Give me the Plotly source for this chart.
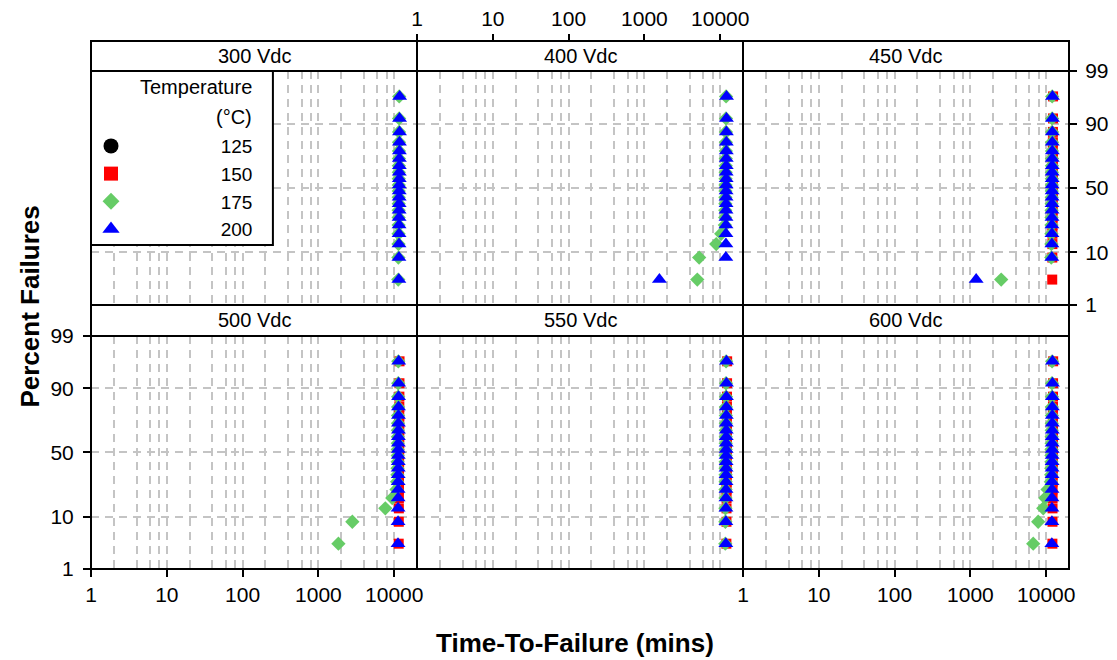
import plotly.graph_objects as go
from statistics import NormalDist

# ---------------- data (time-to-failure, mins) ----------------
panels = ["300 Vdc", "400 Vdc", "450 Vdc", "500 Vdc", "550 Vdc", "600 Vdc"]
temps = ["125", "150", "175", "200"]

# 125 °C units: no visible failures plotted in any panel
p_t125 = []

p300_t150 = []
p300_t175 = [11300, 11340, 11370, 11390, 11410, 11420, 11430, 11440, 11450, 11460, 11470, 11480, 11490, 11500, 11510, 11530, 11550, 11570, 11590, 11620]
p300_t200 = [11500, 11530, 11550, 11570, 11580, 11590, 11600, 11610, 11620, 11630, 11640, 11650, 11660, 11670, 11680, 11690, 11710, 11730, 11750, 11780]

p400_t150 = []
p400_t175 = [4980, 5270, 8850, 10300, 11500, 11600, 11650, 11680, 11700, 11720, 11740, 11760, 11780, 11800, 11820, 11840, 11860, 11880, 11900, 11930]
p400_t200 = [1575, 11850, 11870, 11890, 11900, 11910, 11920, 11930, 11940, 11950, 11960, 11970, 11980, 11990, 12000, 12010, 12030, 12050, 12070, 12100]

p450_t150 = [11990, 12030, 12060, 12080, 12100, 12110, 12120, 12130, 12140, 12150, 12160, 12170, 12180, 12190, 12200, 12210, 12230, 12250, 12270, 12300]
p450_t175 = [2545, 11650, 11680, 11700, 11720, 11740, 11760, 11780, 11800, 11820, 11840, 11850, 11860, 11870, 11880, 11890, 11900, 11920, 11940, 11970]
p450_t200 = [1190, 11850, 11870, 11890, 11900, 11910, 11920, 11930, 11940, 11950, 11960, 11970, 11980, 11990, 12000, 12010, 12020, 12040, 12060, 12090]

p500_t150 = [11450, 11480, 11500, 11520, 11540, 11550, 11560, 11570, 11580, 11590, 11600, 11610, 11620, 11630, 11640, 11650, 11670, 11690, 11710, 11740]
p500_t175 = [1834, 2800, 7620, 9410, 10700, 10900, 11000, 11050, 11080, 11100, 11120, 11140, 11160, 11180, 11200, 11220, 11240, 11260, 11280, 11310]
p500_t200 = [11200, 11220, 11240, 11250, 11260, 11270, 11280, 11290, 11300, 11310, 11320, 11330, 11340, 11350, 11360, 11370, 11380, 11400, 11420, 11450]

p550_t150 = [12050, 12080, 12100, 12120, 12130, 12140, 12150, 12160, 12170, 12180, 12190, 12200, 12210, 12220, 12230, 12240, 12260, 12280, 12300, 12330]
p550_t175 = [11650, 11680, 11700, 11720, 11740, 11750, 11760, 11770, 11780, 11790, 11800, 11810, 11820, 11830, 11840, 11850, 11870, 11890, 11910, 11940]
p550_t200 = [11850, 11870, 11890, 11900, 11910, 11920, 11930, 11940, 11950, 11960, 11970, 11980, 11990, 12000, 12010, 12020, 12040, 12060, 12080, 12100]

p600_t150 = [12050, 12080, 12100, 12120, 12130, 12140, 12150, 12160, 12170, 12180, 12190, 12200, 12210, 12220, 12230, 12240, 12260, 12280, 12300, 12330]
p600_t175 = [6730, 7830, 9130, 9700, 10400, 11500, 11600, 11650, 11700, 11720, 11740, 11760, 11780, 11800, 11820, 11840, 11860, 11880, 11900, 11930]
p600_t200 = [11850, 11870, 11890, 11900, 11910, 11920, 11930, 11940, 11950, 11960, 11970, 11980, 11990, 12000, 12010, 12020, 12040, 12060, 12080, 12100]

panel_data = [
    [p_t125, p300_t150, p300_t175, p300_t200],
    [p_t125, p400_t150, p400_t175, p400_t200],
    [p_t125, p450_t150, p450_t175, p450_t200],
    [p_t125, p500_t150, p500_t175, p500_t200],
    [p_t125, p550_t150, p550_t175, p550_t200],
    [p_t125, p600_t150, p600_t175, p600_t200],
]

x_tick_vals = [1, 10, 100, 1000, 10000]
x_tick_text = ["1", "10", "100", "1000", "10000"]
x_minor_vals = [m * d for d in (1, 10, 100, 1000, 10000) for m in (2, 4, 6, 8)]
y_tick_pct = [1, 10, 50, 90, 99]
y_tick_text = ["1", "10", "50", "90", "99"]

# ---------------- style ----------------
FONT = "Liberation Sans, Arial, sans-serif"
TICK = 21
STRIP = 20
colors = {"125": "#000000", "150": "#ff0000", "175": "#66cc66", "200": "#0000ff"}
symbols = {"125": "circle", "150": "square", "175": "diamond", "200": "triangle-up"}
sizes = {"125": 13, "150": 10, "175": 11, "200": 13}
legend_sizes = {"125": 15, "150": 14, "175": 13, "200": 15}
GRID = "#c4c4c4"
DASH = "8px,6px"

nd = NormalDist()


def zval(p):
    return nd.inv_cdf(p)


# median-rank plotting positions (Bernard)
def positions(times):
    n = len(times)
    return [zval((i + 1 - 0.3) / (n + 0.4)) for i in range(n)]


col_dom = [[0.0, 1 / 3], [1 / 3, 2 / 3], [2 / 3, 1.0]]
row_dom = [[0.5, 0.9432], [0.0, 0.4413]]          # top row, bottom row
strip_dom = [[0.9432, 1.0], [0.4413, 0.5]]

fig = go.Figure()

for k, groups in enumerate(panel_data):
    ax = "" if k == 0 else str(k + 1)
    for t, times in zip(temps, groups):
        srt = sorted(times)
        fig.add_trace(go.Scatter(
            x=srt, y=positions(srt), mode="markers",
            xaxis="x" + ax, yaxis="y" + ax,
            name=t + " °C", showlegend=False,
            marker=dict(color=colors[t], symbol=symbols[t], size=sizes[t], line=dict(width=0)),
            hoverinfo="x+y",
        ))

# legend entries (key only, no points drawn)
for t in temps:
    fig.add_trace(go.Scatter(
        x=[None], y=[None], mode="markers", xaxis="x", yaxis="y",
        name="\u00a0" * 17 + t, showlegend=True,
        marker=dict(color=colors[t], symbol=symbols[t], size=legend_sizes[t], line=dict(width=0)),
    ))

zlo, zhi = zval(0.01), zval(0.99)
layout_axes = {}
for k in range(6):
    r, c = divmod(k, 3)
    ax = "" if k == 0 else str(k + 1)
    xa = dict(
        domain=col_dom[c], anchor="y" + ax, type="log", range=[0, 4.3],
        tickmode="array", tickvals=x_tick_vals, ticktext=x_tick_text,
        showgrid=True, gridcolor=GRID, griddash=DASH, gridwidth=2,
        minor=dict(tickmode="array", tickvals=x_minor_vals, showgrid=True,
                   gridcolor=GRID, griddash=DASH, gridwidth=2, ticks=""),
        showline=False, zeroline=False, automargin=False,
        ticks="", showticklabels=False,
        tickfont=dict(family=FONT, size=TICK, color="black"),
        fixedrange=True,
    )
    if k in (3, 5):
        xa.update(ticks="outside", ticklen=7, tickwidth=1.5, tickcolor="black", showticklabels=True)
    if k == 1:
        xa.update(side="top", anchor="free", position=1.0, ticks="outside", ticklen=7,
                  tickwidth=1.5, tickcolor="black", showticklabels=True)
    ya = dict(
        domain=row_dom[r], anchor="x" + ax, range=[zlo, zhi],
        tickmode="array", tickvals=[zval(p / 100) for p in y_tick_pct], ticktext=y_tick_text,
        showgrid=True, gridcolor=GRID, griddash=DASH, gridwidth=2,
        showline=False, zeroline=False, automargin=False,
        ticks="", showticklabels=False,
        tickfont=dict(family=FONT, size=TICK, color="black"),
        fixedrange=True,
    )
    if k == 3:
        ya.update(ticks="outside", ticklen=7, tickwidth=1.5, tickcolor="black",
                  showticklabels=True, ticklabelstandoff=5)
    if k == 2:
        ya.update(side="right", ticks="outside", ticklen=7, tickwidth=1.5, tickcolor="black",
                  showticklabels=True, ticklabelstandoff=4)
    layout_axes["xaxis" + ax] = xa
    layout_axes["yaxis" + ax] = ya

shapes = []
annotations = []

# legend box (white, inside first panel)
shapes.append(dict(type="rect", xref="paper", yref="paper", x0=0, x1=0.186, y0=0.6136, y1=0.9432,
                   fillcolor="white", line=dict(color="black", width=2), layer="above"))

for k, name in enumerate(panels):
    r, c = divmod(k, 3)
    ax = "" if k == 0 else str(k + 1)
    shapes.append(dict(type="rect", xref="x" + ax + " domain", yref="y" + ax + " domain",
                       x0=0, x1=1, y0=0, y1=1, line=dict(color="black", width=2),
                       fillcolor="rgba(0,0,0,0)", layer="above"))
    shapes.append(dict(type="rect", xref="paper", yref="paper",
                       x0=col_dom[c][0], x1=col_dom[c][1], y0=strip_dom[r][0], y1=strip_dom[r][1],
                       fillcolor="white", line=dict(color="black", width=2), layer="above"))
    annotations.append(dict(text=name, xref="paper", yref="paper",
                            x=(col_dom[c][0] + col_dom[c][1]) / 2,
                            y=(strip_dom[r][0] + strip_dom[r][1]) / 2,
                            showarrow=False, xanchor="center", yanchor="middle",
                            font=dict(family=FONT, size=STRIP, color="black")))

annotations += [
    dict(text="Temperature", xref="paper", yref="paper", x=0.1667, y=0.912, showarrow=False,
         xanchor="right", yanchor="middle", font=dict(family=FONT, size=STRIP, color="black")),
    dict(text="(°C)", xref="paper", yref="paper", x=0.1667, y=0.856, showarrow=False,
         xanchor="right", yanchor="middle", font=dict(family=FONT, size=STRIP, color="black")),
    dict(text="<b>Percent Failures</b>", xref="paper", yref="paper", x=-0.0624, y=0.497,
         textangle=-90, showarrow=False, xanchor="center", yanchor="middle",
         font=dict(family=FONT, size=26, color="black")),
    dict(text="<b>Time-To-Failure (mins)</b>", xref="paper", yref="paper", x=0.4949, y=-0.141,
         showarrow=False, xanchor="center", yanchor="middle",
         font=dict(family=FONT, size=26, color="black")),
]

fig.update_layout(
    width=1117, height=660,
    margin=dict(l=91, r=48, t=41, b=91, autoexpand=False),
    paper_bgcolor="white", plot_bgcolor="white",
    font=dict(family=FONT, size=TICK, color="black"),
    showlegend=True,
    legend=dict(x=0.0, y=0.837, xanchor="left", yanchor="top", bgcolor="rgba(0,0,0,0)",
                borderwidth=0, font=dict(family=FONT, size=19, color="black"),
                itemsizing="trace", traceorder="normal"),
    shapes=shapes, annotations=annotations,
    **layout_axes,
)

# remove the default page margin so the 1117x660 figure fills the window exactly
fig.write_html("out.html", config={"displayModeBar": False},
               post_script="document.body.style.margin='0';document.body.style.overflow='hidden';")
